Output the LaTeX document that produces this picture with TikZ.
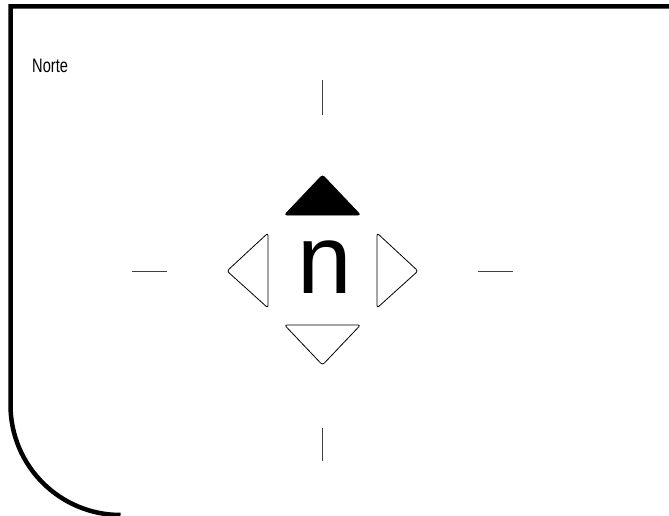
\documentclass[tikz,border=0pt]{standalone}
\usepackage{fontspec}
\setmainfont{Liberation Sans}
\usepackage{graphicx}
\usetikzlibrary{positioning}
\tikzset{
    frame/.style={line width=4.5pt, black},
    tickline/.style={line width=0.9pt, black!75},
    arrowtri/.style={draw=black, line width=0.8pt, rounded corners=2.5pt, line join=round, fill=white}
}

\begin{document}
\begin{tikzpicture}[
    x=1pt, y=-1pt,
    % nhãn và chữ cái ở giữa
    caption/.style={anchor=base west, inner sep=0pt, font=\fontsize{19.5}{20}\selectfont},
    letter/.style={anchor=base, inner sep=0pt, font=\fontsize{98}{98}\selectfont}
]
    \useasboundingbox (0,0) rectangle (669,516);

    % 1. KHUNG (góc dưới trái bo tròn)
    \draw[frame] (669,6.5) -- (10.5,6.5) -- (10.5,405) arc[start angle=180, end angle=90, radius=110];

    % 2. NHÃN
    \node[caption] (title) at (32,73) {\scalebox{0.75}[1]{Norte}};

    % 3. CHỮ Ở GIỮA
    \node[letter] (dir) at (325,293) {n};

    % 4. CÁC TAM GIÁC
    \draw[arrowtri, fill=black] (322.5,175) -- (360.5,215) -- (284.5,215) -- cycle;
    \draw[arrowtri] (227,271) -- (268,233) -- (268,308) -- cycle;
    \draw[arrowtri] (418,271) -- (377,308) -- (377,233) -- cycle;
    \draw[arrowtri] (322.5,365) -- (284.5,325) -- (360.5,325) -- cycle;

    % 5. VẠCH NGẮN
    \draw[tickline] (322.5,80) -- (322.5,115);
    \draw[tickline] (132,271) -- (167,271);
    \draw[tickline] (478,271) -- (513,271);
    \draw[tickline] (322.5,428) -- (322.5,461);

\end{tikzpicture}
\end{document}
